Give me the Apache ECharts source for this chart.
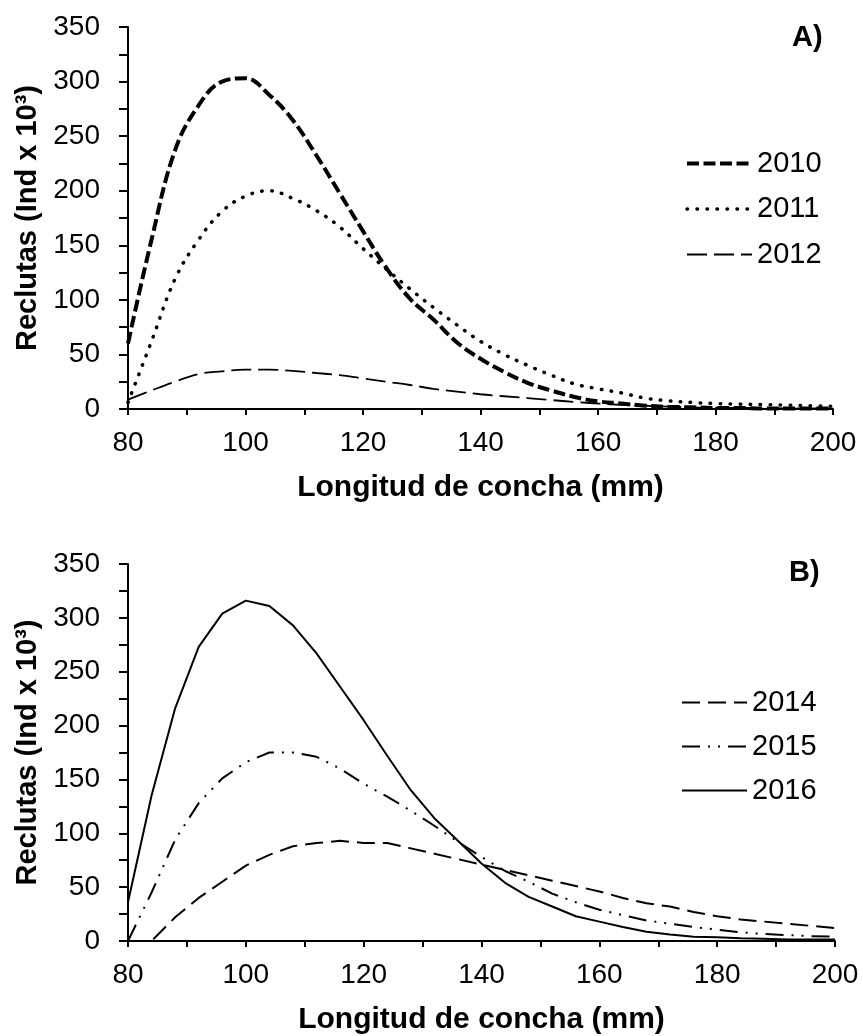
<!DOCTYPE html>
<html>
<head>
<meta charset="utf-8">
<script src="https://cdn.jsdelivr.net/npm/echarts@6/dist/echarts.min.js"></script>
<style>
  html, body { margin: 0; padding: 0; background: #fff; }
  #chart { width: 863px; height: 1036px; }
</style>
</head>
<body>
<div id="chart"></div>
<script>
// Shell length classes (mm)
const lengthsMm = [80, 84, 88, 92, 96, 100, 104, 108, 112, 116, 120, 124, 128, 132, 136, 140,
                   144, 148, 152, 156, 160, 164, 168, 172, 176, 180, 184, 188, 192, 196, 200];

// Panel A recruits (Ind x 10^3)
const recruits2010 = [60, 155, 237, 278, 300, 303, 288, 265, 233, 198, 163, 129, 101, 82, 61, 46,
                      34, 24, 17, 11, 7, 5, 3, 2, 1.5, 1, 1, 0.5, 0.5, 0.5, 0.3];
const recruits2011 = [6, 62, 119, 155, 181, 195, 200, 193, 182, 167, 147, 128, 110, 93, 77, 62,
                      50, 40, 31, 23, 18.5, 14.7, 10, 7.5, 6, 5, 4.5, 4, 3.5, 3, 2.5];
const recruits2012 = [8.6, 17, 25, 32, 34.5, 36, 36, 35, 33, 31, 28, 25, 22, 18.5, 16, 13.5,
                      11.7, 10, 8.2, 6.5, 5, 3.8, 3, 2.2, 1.5, 1.2, 1, 0.8, 0.6, 0.5, 0.4];

// Panel B recruits (Ind x 10^3)
const recruits2014 = [0, 0, 22, 40, 55, 70, 80, 88, 91, 93, 91, 91, 86, 81, 76, 71,
                      66, 61, 56, 51, 46, 40, 35, 32, 27, 23, 20, 18, 16, 14, 12];
const recruits2015 = [0, 45, 94, 128, 151, 166, 175, 175, 171, 160, 146, 134, 121, 107, 92, 78,
                      65, 55, 44, 36, 29, 24, 19, 16, 13, 10.5, 8, 6.5, 5.5, 4.5, 4];
const recruits2016 = [36, 135, 216, 273, 304, 316, 311, 293, 267, 236, 205, 172, 140, 114, 93, 72,
                      54, 41, 32, 23, 18, 13, 8.5, 6, 4, 3.5, 2.5, 2, 1.5, 1.5, 1.5];

// Axis ticks
const xTicks = { min: 80, max: 200, step: 10, labelEvery: 20 };
const yTicks = { min: 0, max: 350, step: 25, labelEvery: 50 };

const FONT = '"Liberation Sans", Arial, Helvetica, sans-serif';
const BLACK = '#000';

// Stroke style of each year, shared by the curve and its legend entry
const styles = {
  '2010': { width: 4, type: [12, 4.5] },
  '2011': { width: 3.5, type: [0.5, 9.5], cap: 'round' },
  '2012': { width: 1.8, type: [20, 7] },
  '2014': { width: 2, type: [18, 8] },
  '2015': { width: 2, type: [18, 8, 2, 8, 2, 8] },
  '2016': { width: 2, type: 'solid' }
};

const pairs = values => lengthsMm.map((x, i) => [x, values[i]]);

function xAxis(gridIndex) {
  return {
    type: 'value', gridIndex,
    min: xTicks.min, max: xTicks.max, interval: xTicks.step,
    axisLine: { show: true, onZero: false, lineStyle: { color: BLACK, width: 2 } },
    axisTick: { show: true, length: 6, lineStyle: { color: BLACK, width: 2 } },
    axisLabel: {
      color: BLACK, fontFamily: FONT, fontSize: 28, margin: 20,
      showMinLabel: true, showMaxLabel: true,
      formatter: v => (v % xTicks.labelEvery === 0 ? String(v) : '')
    },
    splitLine: { show: false },
    name: 'Longitud de concha (mm)', nameLocation: 'middle', nameGap: 64,
    nameTextStyle: { color: BLACK, fontFamily: FONT, fontSize: 30, fontWeight: 'bold' }
  };
}

function yAxis(gridIndex) {
  return {
    type: 'value', gridIndex,
    min: yTicks.min, max: yTicks.max, interval: yTicks.step,
    axisLine: { show: true, lineStyle: { color: BLACK, width: 2 } },
    axisTick: { show: true, length: 9, lineStyle: { color: BLACK, width: 2 } },
    axisLabel: {
      color: BLACK, fontFamily: FONT, fontSize: 28, margin: 28,
      showMinLabel: true, showMaxLabel: true,
      formatter: v => (v % yTicks.labelEvery === 0 ? String(v) : '')
    },
    splitLine: { show: false },
    name: 'Reclutas (Ind x 10³)', nameLocation: 'middle', nameGap: 78, nameRotate: 90,
    nameTextStyle: { color: BLACK, fontFamily: FONT, fontSize: 29, fontWeight: 'bold' }
  };
}

function lineSeries(name, values, axisIndex, smooth) {
  return {
    name, type: 'line', xAxisIndex: axisIndex, yAxisIndex: axisIndex,
    data: pairs(values), symbol: 'none', smooth: smooth, clip: true,
    itemStyle: { color: BLACK },
    lineStyle: Object.assign({ color: BLACK }, styles[name])
  };
}

const legendItem = name => ({
  name, itemStyle: { opacity: 0 },
  lineStyle: Object.assign({ color: BLACK }, styles[name])
});

const legendBase = {
  orient: 'vertical', padding: 0, itemWidth: 65, itemHeight: 28,
  textStyle: { color: BLACK, fontFamily: FONT, fontSize: 29 },
  selectedMode: false
};

const option = {
  animation: false,
  backgroundColor: '#fff',
  textStyle: { fontFamily: FONT, color: BLACK },
  title: [
    { text: 'A)', left: 792, top: 23, padding: 0,
      textStyle: { fontFamily: FONT, fontSize: 29, fontWeight: 'bold', color: BLACK } },
    { text: 'B)', left: 789, top: 558, padding: 0,
      textStyle: { fontFamily: FONT, fontSize: 29, fontWeight: 'bold', color: BLACK } }
  ],
  grid: [
    { left: 128, top: 27, width: 705, height: 382, containLabel: false },
    { left: 128, top: 564, width: 707, height: 382, containLabel: false }
  ],
  xAxis: [xAxis(0), xAxis(1)],
  yAxis: [yAxis(0), yAxis(1)],
  legend: [
    Object.assign({ data: ['2010', '2011', '2012'].map(legendItem), left: 685, top: 149, itemGap: 16.5 }, legendBase),
    Object.assign({ data: ['2014', '2015', '2016'].map(legendItem), left: 681, top: 688, itemGap: 15 }, legendBase)
  ],
  series: [
    lineSeries('2010', recruits2010, 0, 0.4),
    lineSeries('2011', recruits2011, 0, 0.4),
    lineSeries('2012', recruits2012, 0, 0.4),
    lineSeries('2014', recruits2014, 1, false),
    lineSeries('2015', recruits2015, 1, false),
    lineSeries('2016', recruits2016, 1, false)
  ]
};

const chart = echarts.init(document.getElementById('chart'), null, { renderer: 'canvas' });
chart.setOption(option);
</script>
</body>
</html>
